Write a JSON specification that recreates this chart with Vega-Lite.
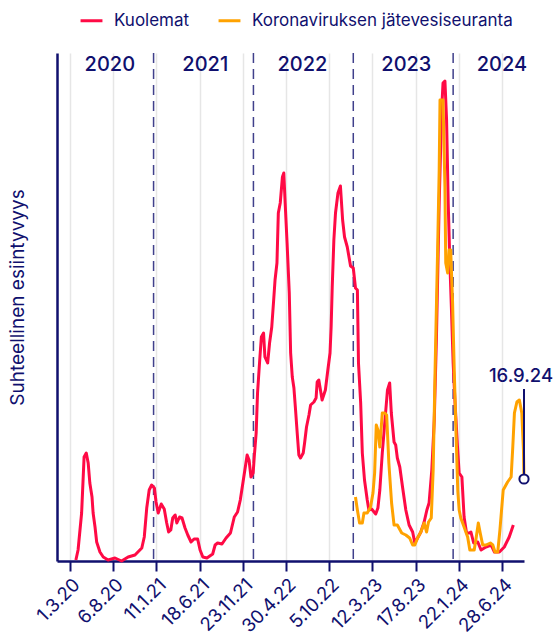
{
  "$schema": "https://vega.github.io/schema/vega-lite/v6.json",
  "width": 467,
  "height": 508,
  "autosize": "none",
  "padding": {"left": 57, "top": 53, "right": 31, "bottom": 71},
  "config": {"font": "Inter", "view": {"stroke": null}},
  "datasets": {
    "kuolemat": [
      {"date": "2020-03-23", "value": 1}, {"date": "2020-03-31", "value": 11}, {"date": "2020-04-13", "value": 48},
      {"date": "2020-04-22", "value": 104}, {"date": "2020-04-30", "value": 108}, {"date": "2020-05-07", "value": 98},
      {"date": "2020-05-13", "value": 78}, {"date": "2020-05-21", "value": 64}, {"date": "2020-05-25", "value": 48},
      {"date": "2020-06-01", "value": 34}, {"date": "2020-06-07", "value": 19}, {"date": "2020-06-19", "value": 9},
      {"date": "2020-07-01", "value": 4}, {"date": "2020-07-19", "value": 1}, {"date": "2020-08-13", "value": 3},
      {"date": "2020-09-06", "value": 0}, {"date": "2020-09-30", "value": 4}, {"date": "2020-10-25", "value": 6},
      {"date": "2020-11-19", "value": 13}, {"date": "2020-11-28", "value": 24}, {"date": "2020-12-07", "value": 53},
      {"date": "2020-12-16", "value": 71}, {"date": "2020-12-25", "value": 76}, {"date": "2021-01-04", "value": 73},
      {"date": "2021-01-10", "value": 59}, {"date": "2021-01-18", "value": 48}, {"date": "2021-01-29", "value": 57},
      {"date": "2021-02-09", "value": 52}, {"date": "2021-02-18", "value": 38}, {"date": "2021-02-25", "value": 29},
      {"date": "2021-03-05", "value": 31}, {"date": "2021-03-12", "value": 43}, {"date": "2021-03-21", "value": 46},
      {"date": "2021-03-27", "value": 38}, {"date": "2021-04-06", "value": 44}, {"date": "2021-04-15", "value": 43},
      {"date": "2021-04-26", "value": 33}, {"date": "2021-05-06", "value": 26}, {"date": "2021-05-18", "value": 19},
      {"date": "2021-05-29", "value": 22}, {"date": "2021-06-11", "value": 22}, {"date": "2021-06-20", "value": 11},
      {"date": "2021-06-30", "value": 4}, {"date": "2021-07-15", "value": 3}, {"date": "2021-08-05", "value": 7},
      {"date": "2021-08-14", "value": 16}, {"date": "2021-08-23", "value": 18}, {"date": "2021-09-08", "value": 17},
      {"date": "2021-09-23", "value": 23}, {"date": "2021-10-09", "value": 28}, {"date": "2021-10-23", "value": 44},
      {"date": "2021-11-04", "value": 49}, {"date": "2021-11-14", "value": 61}, {"date": "2021-11-24", "value": 79},
      {"date": "2021-12-09", "value": 106}, {"date": "2021-12-16", "value": 101}, {"date": "2021-12-23", "value": 84},
      {"date": "2021-12-31", "value": 88}, {"date": "2022-01-04", "value": 104}, {"date": "2022-01-11", "value": 128},
      {"date": "2022-01-16", "value": 168}, {"date": "2022-01-24", "value": 201}, {"date": "2022-01-30", "value": 224},
      {"date": "2022-02-07", "value": 228}, {"date": "2022-02-12", "value": 204}, {"date": "2022-02-22", "value": 198},
      {"date": "2022-03-01", "value": 218}, {"date": "2022-03-09", "value": 234}, {"date": "2022-03-16", "value": 261},
      {"date": "2022-03-21", "value": 281}, {"date": "2022-03-28", "value": 298}, {"date": "2022-04-02", "value": 348},
      {"date": "2022-04-09", "value": 358}, {"date": "2022-04-17", "value": 384}, {"date": "2022-04-22", "value": 388},
      {"date": "2022-04-27", "value": 358}, {"date": "2022-05-04", "value": 318}, {"date": "2022-05-12", "value": 268},
      {"date": "2022-05-17", "value": 208}, {"date": "2022-05-23", "value": 184}, {"date": "2022-05-29", "value": 173},
      {"date": "2022-06-04", "value": 151}, {"date": "2022-06-10", "value": 128}, {"date": "2022-06-16", "value": 106},
      {"date": "2022-06-22", "value": 103}, {"date": "2022-07-02", "value": 108}, {"date": "2022-07-07", "value": 118},
      {"date": "2022-07-14", "value": 134}, {"date": "2022-07-23", "value": 146}, {"date": "2022-07-29", "value": 156},
      {"date": "2022-08-10", "value": 159}, {"date": "2022-08-18", "value": 163}, {"date": "2022-08-22", "value": 179},
      {"date": "2022-08-28", "value": 181}, {"date": "2022-09-03", "value": 171}, {"date": "2022-09-09", "value": 161},
      {"date": "2022-09-15", "value": 166}, {"date": "2022-09-21", "value": 171}, {"date": "2022-09-30", "value": 191},
      {"date": "2022-10-08", "value": 208}, {"date": "2022-10-12", "value": 234}, {"date": "2022-10-16", "value": 274},
      {"date": "2022-10-22", "value": 321}, {"date": "2022-10-28", "value": 348}, {"date": "2022-11-06", "value": 368},
      {"date": "2022-11-15", "value": 375}, {"date": "2022-11-23", "value": 341}, {"date": "2022-11-30", "value": 324},
      {"date": "2022-12-10", "value": 314}, {"date": "2022-12-22", "value": 295}, {"date": "2023-01-01", "value": 293},
      {"date": "2023-01-09", "value": 273}, {"date": "2023-01-16", "value": 271}, {"date": "2023-01-20", "value": 198},
      {"date": "2023-01-28", "value": 158}, {"date": "2023-02-03", "value": 108}, {"date": "2023-02-11", "value": 81},
      {"date": "2023-02-21", "value": 61}, {"date": "2023-02-27", "value": 51}, {"date": "2023-03-09", "value": 52},
      {"date": "2023-03-24", "value": 47}, {"date": "2023-04-01", "value": 53}, {"date": "2023-04-08", "value": 71},
      {"date": "2023-04-17", "value": 108}, {"date": "2023-04-26", "value": 138}, {"date": "2023-05-02", "value": 158},
      {"date": "2023-05-06", "value": 171}, {"date": "2023-05-14", "value": 178}, {"date": "2023-05-20", "value": 148},
      {"date": "2023-05-30", "value": 119}, {"date": "2023-06-05", "value": 116}, {"date": "2023-06-11", "value": 103},
      {"date": "2023-06-20", "value": 94}, {"date": "2023-06-30", "value": 74}, {"date": "2023-07-12", "value": 51},
      {"date": "2023-07-24", "value": 36}, {"date": "2023-08-06", "value": 29}, {"date": "2023-08-14", "value": 18},
      {"date": "2023-08-24", "value": 23}, {"date": "2023-09-05", "value": 29}, {"date": "2023-09-17", "value": 39},
      {"date": "2023-09-27", "value": 51}, {"date": "2023-10-05", "value": 58}, {"date": "2023-10-15", "value": 91},
      {"date": "2023-10-24", "value": 141}, {"date": "2023-11-01", "value": 224}, {"date": "2023-11-11", "value": 358},
      {"date": "2023-11-20", "value": 451}, {"date": "2023-11-25", "value": 478}, {"date": "2023-12-02", "value": 480},
      {"date": "2023-12-08", "value": 441}, {"date": "2023-12-14", "value": 358}, {"date": "2023-12-20", "value": 298},
      {"date": "2023-12-26", "value": 250}, {"date": "2024-01-01", "value": 198}, {"date": "2024-01-08", "value": 158},
      {"date": "2024-01-17", "value": 114}, {"date": "2024-01-23", "value": 88}, {"date": "2024-02-02", "value": 84},
      {"date": "2024-02-10", "value": 44}, {"date": "2024-02-19", "value": 28}, {"date": "2024-02-29", "value": 28},
      {"date": "2024-03-06", "value": 29}, {"date": "2024-03-16", "value": 18}, {"date": "2024-03-31", "value": 19},
      {"date": "2024-04-12", "value": 11}, {"date": "2024-04-30", "value": 14}, {"date": "2024-05-19", "value": 16},
      {"date": "2024-05-31", "value": 9}, {"date": "2024-06-18", "value": 9}, {"date": "2024-07-06", "value": 14},
      {"date": "2024-07-24", "value": 24}, {"date": "2024-08-08", "value": 36}
    ],
    "jatevesi": [
      {"date": "2023-01-09", "value": 64}, {"date": "2023-01-16", "value": 51}, {"date": "2023-01-24", "value": 38},
      {"date": "2023-02-03", "value": 38}, {"date": "2023-02-09", "value": 48}, {"date": "2023-02-21", "value": 48},
      {"date": "2023-03-05", "value": 54}, {"date": "2023-03-14", "value": 68}, {"date": "2023-03-20", "value": 88},
      {"date": "2023-03-26", "value": 136}, {"date": "2023-04-01", "value": 131}, {"date": "2023-04-08", "value": 114},
      {"date": "2023-04-17", "value": 148}, {"date": "2023-04-26", "value": 148}, {"date": "2023-05-03", "value": 146},
      {"date": "2023-05-11", "value": 98}, {"date": "2023-05-21", "value": 58}, {"date": "2023-05-30", "value": 36},
      {"date": "2023-06-11", "value": 36}, {"date": "2023-06-27", "value": 28}, {"date": "2023-07-12", "value": 26},
      {"date": "2023-07-26", "value": 23}, {"date": "2023-08-06", "value": 16}, {"date": "2023-08-14", "value": 16},
      {"date": "2023-08-24", "value": 23}, {"date": "2023-09-05", "value": 29}, {"date": "2023-09-17", "value": 38},
      {"date": "2023-09-26", "value": 29}, {"date": "2023-10-03", "value": 39}, {"date": "2023-10-13", "value": 43},
      {"date": "2023-10-20", "value": 91}, {"date": "2023-10-27", "value": 191}, {"date": "2023-11-05", "value": 308},
      {"date": "2023-11-11", "value": 391}, {"date": "2023-11-14", "value": 461}, {"date": "2023-11-25", "value": 461},
      {"date": "2023-12-02", "value": 374}, {"date": "2023-12-05", "value": 298}, {"date": "2023-12-12", "value": 288},
      {"date": "2023-12-17", "value": 311}, {"date": "2023-12-23", "value": 311}, {"date": "2023-12-30", "value": 258},
      {"date": "2024-01-05", "value": 191}, {"date": "2024-01-12", "value": 124}, {"date": "2024-01-18", "value": 70},
      {"date": "2024-01-23", "value": 51}, {"date": "2024-01-29", "value": 43}, {"date": "2024-02-10", "value": 34},
      {"date": "2024-02-23", "value": 24}, {"date": "2024-03-02", "value": 11}, {"date": "2024-03-18", "value": 11},
      {"date": "2024-03-24", "value": 21}, {"date": "2024-04-02", "value": 38}, {"date": "2024-04-09", "value": 28},
      {"date": "2024-04-18", "value": 16}, {"date": "2024-04-30", "value": 16}, {"date": "2024-05-16", "value": 18},
      {"date": "2024-05-25", "value": 16}, {"date": "2024-06-02", "value": 9}, {"date": "2024-06-12", "value": 9},
      {"date": "2024-06-20", "value": 31}, {"date": "2024-07-02", "value": 71}, {"date": "2024-07-18", "value": 79},
      {"date": "2024-07-31", "value": 84}, {"date": "2024-08-06", "value": 114}, {"date": "2024-08-12", "value": 148},
      {"date": "2024-08-21", "value": 159}, {"date": "2024-08-30", "value": 161}, {"date": "2024-09-08", "value": 148},
      {"date": "2024-09-14", "value": 111}, {"date": "2024-09-16", "value": 82}
    ],
    "vuodet": [
      {"year": "2020", "start": "2020-01-01", "mid": "2020-07-25"},
      {"year": "2021", "start": "2021-01-01", "mid": "2021-07-09"},
      {"year": "2022", "start": "2022-01-01", "mid": "2022-06-29"},
      {"year": "2023", "start": "2023-01-01", "mid": "2023-07-14"},
      {"year": "2024", "start": "2024-01-01", "mid": "2024-06-27"}
    ],
    "viimeisin": [
      {"date": "2024-09-16", "value": 82, "top": 172, "labelpos": 185, "label": "16.9.24"}
    ]
  },
  "layer": [
    {
      "data": {"name": "vuodet"},
      "transform": [{"filter": "datum.year != '2020'"}],
      "mark": {"type": "rule", "color": "#10106e", "strokeWidth": 1.5, "strokeDash": [10, 6], "opacity": 0.8},
      "encoding": {
        "x": {"field": "start", "type": "temporal"}
      }
    },
    {
      "data": {"name": "kuolemat"},
      "mark": {"type": "line", "strokeWidth": 3, "strokeJoin": "round"},
      "encoding": {
        "x": {
          "field": "date",
          "type": "temporal",
          "scale": {
            "type": "utc",
            "domain": [
              {"year": 2020, "month": 1, "date": 14, "utc": true},
              {"year": 2024, "month": 9, "date": 16, "utc": true}
            ]
          },
          "axis": {
            "title": null,
            "values": [
              {"year": 2020, "month": 3, "date": 1, "utc": true},
              {"year": 2020, "month": 8, "date": 6, "utc": true},
              {"year": 2021, "month": 1, "date": 11, "utc": true},
              {"year": 2021, "month": 6, "date": 18, "utc": true},
              {"year": 2021, "month": 11, "date": 23, "utc": true},
              {"year": 2022, "month": 4, "date": 30, "utc": true},
              {"year": 2022, "month": 10, "date": 5, "utc": true},
              {"year": 2023, "month": 3, "date": 12, "utc": true},
              {"year": 2023, "month": 8, "date": 17, "utc": true},
              {"year": 2024, "month": 1, "date": 22, "utc": true},
              {"year": 2024, "month": 6, "date": 28, "utc": true}
            ],
            "format": "%-d.%-m.%y",
            "labelAngle": -45,
            "labelFontSize": 18.5,
            "labelColor": "#10106e",
            "labelPadding": 4,
            "domainColor": "#10106e",
            "domainWidth": 2.5,
            "tickColor": "#10106e",
            "tickWidth": 2,
            "tickSize": 10,
            "grid": true,
            "gridColor": "#e6e6e6",
            "gridWidth": 1.5,
            "labelOverlap": false
          }
        },
        "y": {
          "field": "value",
          "type": "quantitative",
          "scale": {"domain": [0, 508], "nice": false},
          "axis": {
            "title": "Suhteellinen esiintyvyys",
            "titleFontSize": 19,
            "titleFontWeight": "normal",
            "titleColor": "#10106e",
            "titlePadding": 30,
            "titleY": 244,
            "labels": false,
            "ticks": false,
            "grid": false,
            "domainColor": "#10106e",
            "domainWidth": 2.5
          }
        },
        "color": {
          "datum": "Kuolemat",
          "type": "nominal",
          "scale": {
            "domain": ["Kuolemat", "Koronaviruksen jätevesiseuranta"],
            "range": ["#ff0a45", "#ffa200"]
          },
          "legend": {
            "title": null,
            "orient": "none",
            "legendX": 22,
            "legendY": -45,
            "direction": "horizontal",
            "symbolType": "stroke",
            "symbolSize": 480,
            "symbolStrokeWidth": 3,
            "labelFontSize": 17,
            "labelColor": "#10106e",
            "labelOffset": 10,
            "labelLimit": 400,
            "columnPadding": 22
          }
        }
      }
    },
    {
      "data": {"name": "jatevesi"},
      "mark": {"type": "line", "strokeWidth": 3, "strokeJoin": "round"},
      "encoding": {
        "x": {"field": "date", "type": "temporal"},
        "y": {"field": "value", "type": "quantitative"},
        "color": {"datum": "Koronaviruksen jätevesiseuranta", "type": "nominal"}
      }
    },
    {
      "data": {"name": "vuodet"},
      "mark": {"type": "text", "fontSize": 20, "fontWeight": 500, "color": "#10106e", "baseline": "middle", "align": "center", "dy": -242},
      "encoding": {
        "x": {"field": "mid", "type": "temporal"},
        "text": {"field": "year"}
      }
    },
    {
      "data": {"name": "viimeisin"},
      "mark": {"type": "rule", "color": "#10106e", "strokeWidth": 2},
      "encoding": {
        "x": {"field": "date", "type": "temporal"},
        "y": {"field": "top", "type": "quantitative"},
        "y2": {"field": "value"}
      }
    },
    {
      "data": {"name": "viimeisin"},
      "mark": {"type": "point", "shape": "circle", "size": 85, "filled": true, "fill": "#ffffff", "stroke": "#10106e", "strokeWidth": 2, "opacity": 1},
      "encoding": {
        "x": {"field": "date", "type": "temporal"},
        "y": {"field": "value", "type": "quantitative"}
      }
    },
    {
      "data": {"name": "viimeisin"},
      "mark": {"type": "text", "fontSize": 18.5, "fontWeight": 500, "color": "#10106e", "align": "center", "baseline": "middle", "dx": -3},
      "encoding": {
        "x": {"field": "date", "type": "temporal"},
        "y": {"field": "labelpos", "type": "quantitative"},
        "text": {"field": "label"}
      }
    }
  ]
}
